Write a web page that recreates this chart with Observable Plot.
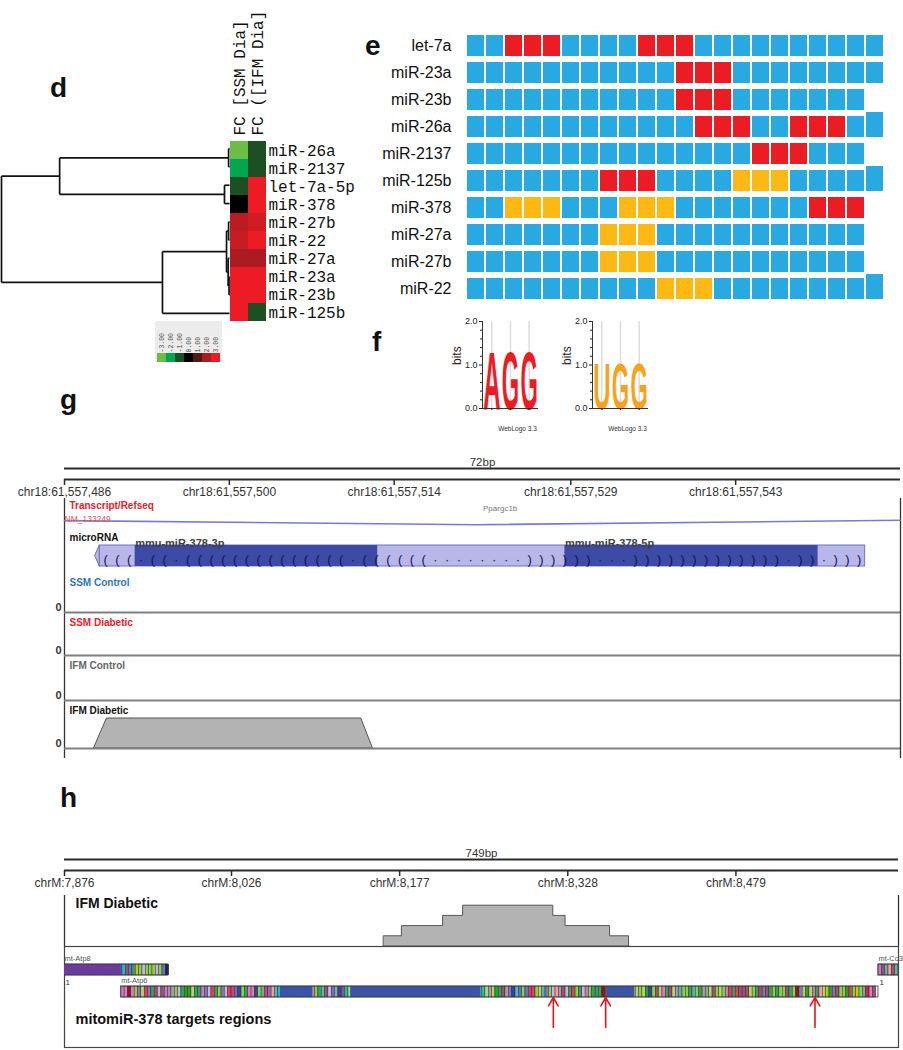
<!DOCTYPE html>
<html>
<head>
<meta charset="utf-8">
<script src="https://cdn.jsdelivr.net/npm/d3@7"></script>
<script src="https://cdn.jsdelivr.net/npm/@observablehq/plot@0.6"></script>
<style>
  body { margin: 0; background: #fff; }
  #root { position: relative; width: 903px; height: 1050px; overflow: hidden; background: #fff;
          font-family: "Liberation Sans", Arial, sans-serif; }
  .panel { position: absolute; font: bold 28px "Liberation Sans", Arial, sans-serif; line-height: 1; color: #111; }
</style>
</head>
<body>
<div id="root"></div>
<script>
// ======================= DATA =======================
// ---- panel d : fold-change heat map ----
const hmRows = ["miR-26a", "miR-2137", "let-7a-5p", "miR-378", "miR-27b", "miR-22", "miR-27a", "miR-23a", "miR-23b", "miR-125b"];
const hmCols = ["FC [SSM Dia]", "FC ([IFM Dia]"];
const fcSSM = [-3.0, -2.0, -1.0, 0.0, 2.3, 2.45, 2.05, 3.0, 3.0, 3.0];
const fcIFM = [-1.0, -1.0, 3.0, 3.0, 2.6, 3.0, 2.05, 3.0, 3.0, -1.0];
// dendrogram merges: [left, right, height]; numbers are leaf rows, "mK" is merge K
const dendroMerges = [
  [0, 1, 0.004],
  [2, 3, 0.022],
  [4, 5, 0.004],
  [7, 8, 0.002],
  [6, "m3", 0.006],
  ["m2", "m4", 0.013],
  ["m5", 9, 0.294],
  ["m0", "m1", 0.745],
  ["m7", "m6", 1.0]
];
const legendValues = [-3, -2, -1, 0, 1, 2, 3];
const legendLabels = ["-3.00", "-2.00", "-1.00", "0.00", "1.00", "2.00", "3.00"];

// ---- panel e : seed-match grid ----
const eRows = ["let-7a", "miR-23a", "miR-23b", "miR-26a", "miR-2137", "miR-125b", "miR-378", "miR-27a", "miR-27b", "miR-22"];
const ePatterns = [
  "BBRRRBBBBRRRBBBBBBBBBB",
  "BBBBBBBBBBBRRRBBBBBBBB",
  "BBBBBBBBBBBRRRBBBBBBB",
  "BBBBBBBBBBBBRRRBBRRRBB",
  "BBBBBBBBBBBBBBBRRRBBB",
  "BBBBBBBRRRBBBBYYYBBBBB",
  "BBYYYBBBYYYBBBBBBBRRR",
  "BBBBBBBYYYBBBBBBBBBBB",
  "BBBBBBBYYYBBBBBBBBBBB",
  "BBBBBBBBBBYYYBBBBBBBBB"
];
const eTallLast = ["miR-26a", "miR-125b", "miR-22"];

// ---- panel f : sequence logos ----
const logoA = ["A", "G", "G"];
const logoAHeights = [1.35, 1.35, 1.35];
const logoU = ["U", "G", "G"];
const logoUHeights = [1.06, 1.06, 1.06];
const logoTicks = [0, 1, 2];
const logoTickLabels = ["0.0", "1.0", "2.0"];
const logoMinorTicks = [0.2, 0.4, 0.6, 0.8, 1.2, 1.4, 1.6, 1.8];
const logoCredit = "WebLogo 3.3";

// ---- panel g : chr18 browser view ----
const gStart = 61557486, gEnd = 61557557;
const gSpanLabel = "72bp";
const gTicks = [61557486, 61557500, 61557514, 61557529, 61557543];
const gTickLabels = ["chr18:61,557,486", "chr18:61,557,500", "chr18:61,557,514", "chr18:61,557,529", "chr18:61,557,543"];
const gTranscriptTrack = "Transcript/Refseq";
const gTranscriptId = "NM_133249";
const gTranscriptName = "Ppargc1b";
const gTranscriptNamePos = 61557523;
const gTranscriptPos = [61557486, 61557521, 61557557];
const gTranscriptLevel = [0.31, 0.18, 0.32];
const gMirTrack = "microRNA";
const gPrecursor = { start: 61557489, end: 61557554, tip: 61557488.6 };
const gMature = [
  { name: "mmu-miR-378-3p", start: 61557492, end: 61557512.6 },
  { name: "mmu-miR-378-5p", start: 61557528.5, end: 61557550 }
];
const gStructure = "(((" + ".((.((((((((((((((.((" + "((((........))))" + "))...)))))))))))))" + ".))" + ".)))";
const gTracks = ["SSM Control", "SSM Diabetic", "IFM Control", "IFM Diabetic"];
const gIFMDiabeticPos = [61557488.5, 61557489.6, 61557511.2, 61557512.2];
const gIFMDiabeticCov = [0, 1, 1, 0];

// ---- panel h : chrM browser view ----
const hStart = 7876, hEnd = 8625;
const hSpanLabel = "749bp";
const hTicks = [7876, 8026, 8177, 8328, 8479];
const hTickLabels = ["chrM:7,876", "chrM:8,026", "chrM:8,177", "chrM:8,328", "chrM:8,479"];
const hCovTrack = "IFM Diabetic";
const hCovPos = [8163, 8179, 8216, 8234, 8315, 8326, 8366, 8383];
const hCovVal = [1, 2, 3, 4, 3, 2, 1, 0];
const hGenes = [
  { name: "mt-Atp8", start: 7766, end: 7969, lane: "1", frame: "1" },
  { name: "mt-Atp6", start: 7927, end: 8607, lane: "2", frame: "" },
  { name: "mt-Co3", start: 8607, end: 9390, lane: "1", frame: "1" }
];
const hProtein = {
  "mt-Atp8": "MPQLDTSTWLTMILSMFLTLFIIFQLKISKHNFYHNPELTPTKMLKQNTPWETKWTKIYLPLLLPLK*",
  "mt-Atp6": "MNENLFASFITPTMMGLPIVVAIIMFPSILFPSSKRLINNRLHSFQHWLVKLIIKQMMLIHTPKGRTWALMIVSLIMFIGSTNLLGLLPHSFTPTTQLSMNLSMAIPLWAGAVITGFRHKLKSSLAHFLPQGTPISLIPMLIIIETISLFIQPMALAVRLTANITAGHLLIHLIGGATLALMSISTTTALITFTILILLTILEFAVAMIQAYVFTLLVSLYLHDNT",
  "mt-Co3": "MTHQTHAYHMVNPSPWPLTG"
};
const hMasked = [
  { gene: "mt-Atp8", lane: "1", start: 7766, end: 7927 },
  { gene: "mt-Atp6", lane: "2", start: 8070, end: 8099 },
  { gene: "mt-Atp6", lane: "2", start: 8133, end: 8250 },
  { gene: "mt-Atp6", lane: "2", start: 8363, end: 8388 }
];
const hSites = [8315, 8362, 8550];
const hSitesLabel = "mitomiR-378 targets regions";

// ======================= LAYOUT HELPERS =======================
const root = document.getElementById("root");
const SANS = "Liberation Sans, Arial, sans-serif";
const MONO = "Liberation Mono, DejaVu Sans Mono, monospace";
function place(node, left, top) {
  node.style.position = "absolute";
  node.style.left = left + "px";
  node.style.top = top + "px";
  root.appendChild(node);
  return node;
}
function panelLabel(text, left, baseline) {
  const d = document.createElement("div");
  d.className = "panel";
  d.textContent = text;
  place(d, left, baseline - 24);
}
const baseStyle = { background: "transparent", fontFamily: SANS, color: "#222", overflow: "visible" };

// ======================= PANEL d =======================
const hmColor = { type: "linear", domain: [-3, 3],
  interpolate: d3.piecewise(d3.interpolateRgb, ["#6abd45", "#00a650", "#1d4f25", "#000000", "#5b1416", "#a61c22", "#ed1c24"]) };

const nodePos = [];
const nodeOf = (ref) => typeof ref === "number" ? { y: ref, h: 0 } : nodePos[+ref.slice(1)];
const dendroSegs = [];
for (const [l, r, h] of dendroMerges) {
  const a = nodeOf(l), b = nodeOf(r);
  dendroSegs.push({ x1: h, y1: a.y, x2: h, y2: b.y });
  dendroSegs.push({ x1: a.h, y1: a.y, x2: h, y2: a.y });
  dendroSegs.push({ x1: b.h, y1: b.y, x2: h, y2: b.y });
  nodePos.push({ y: (a.y + b.y) / 2, h });
}
place(Plot.plot({
  width: 229, height: 330, marginTop: 139, marginBottom: 8, marginLeft: 1, marginRight: 0,
  x: { domain: [1, 0], axis: null },
  y: { domain: [-0.5, hmRows.length - 0.5], reverse: true, axis: null },
  style: baseStyle,
  marks: [Plot.link(dendroSegs, { x1: "x1", y1: "y1", x2: "x2", y2: "y2", stroke: "#111", strokeWidth: 1.7 })]
}), 0, 0);

const hmData = hmRows.flatMap((row, i) => [
  { row, col: hmCols[0], v: fcSSM[i] },
  { row, col: hmCols[1], v: fcIFM[i] }
]);
place(Plot.plot({
  width: 140, height: 330, marginTop: 139, marginBottom: 8, marginLeft: 0, marginRight: 103,
  x: { domain: hmCols, padding: 0, axis: null },
  y: { domain: hmRows, padding: 0 },
  color: hmColor,
  style: { ...baseStyle, fontFamily: MONO },
  marks: [
    Plot.cell(hmData, { x: "col", y: "row", fill: "v" }),
    Plot.axisY({ anchor: "right", tickSize: 0, tickPadding: 2, fontSize: 16, label: null, fill: "#111" }),
    Plot.text(hmCols, { x: d => d, frameAnchor: "top", rotate: -90, textAnchor: "start", lineAnchor: "middle", dy: -4, fontSize: 16, fill: "#111" })
  ]
}), 229, 0);

place(Plot.plot({
  width: 67, height: 41, marginTop: 32, marginBottom: 0, marginLeft: 0, marginRight: 0,
  x: { domain: legendValues, padding: 0, axis: null },
  color: hmColor,
  style: { ...baseStyle, background: "#ececec", fontFamily: MONO },
  marks: [
    Plot.cell(legendValues, { x: d => d, fill: d => d }),
    Plot.text(legendValues, { x: d => d, text: (d, i) => legendLabels[i], frameAnchor: "top", rotate: -90,
      textAnchor: "start", lineAnchor: "middle", dy: -1, fontSize: 6.5, fill: "#444" })
  ]
}), 155, 321);

// ======================= PANEL e =======================
const eCols = Array.from({ length: 22 }, (_, i) => i + 1);
const eCells = eRows.flatMap((row, i) => Array.from(ePatterns[i], (code, j) => ({
  row, col: j + 1, code, tall: eTallLast.includes(row) && j === ePatterns[i].length - 1
})));
place(Plot.plot({
  width: 543, height: 300, marginTop: 12, marginBottom: 18, marginLeft: 98, marginRight: 11,
  x: { domain: eCols, paddingInner: 0.1, paddingOuter: 0, axis: null },
  y: { domain: eRows, paddingInner: 0.22, paddingOuter: 0 },
  color: { type: "ordinal", domain: ["B", "R", "Y"], range: ["#29a9e1", "#ec1c24", "#fcb813"] },
  style: baseStyle,
  marks: [
    Plot.cell(eCells.filter(d => !d.tall), { x: "col", y: "row", fill: "code" }),
    Plot.cell(eCells.filter(d => d.tall), { x: "col", y: "row", fill: "code", insetTop: -4 }),
    Plot.axisY({ tickSize: 0, tickPadding: 7, fontSize: 16, label: null, fill: "#111" })
  ]
}), 360, 20);

// ======================= PANEL f =======================
function logo(letters, heights, colour, left) {
  const data = letters.map((letter, i) => ({ pos: i + 1, letter, h: heights[i] }));
  const svg = Plot.plot({
    width: 110, height: 140, marginTop: 21, marginBottom: 32, marginLeft: 42, marginRight: 12,
    x: { domain: [0.5, letters.length + 0.5], axis: null },
    y: { domain: [0, 2], axis: null },
    style: baseStyle,
    marks: [
      Plot.ruleX(data, { x: "pos", stroke: "#dcdcdc", strokeWidth: 1.5 }),
      Plot.text(data, { x: "pos", y: 0, text: "letter", fill: colour, fontWeight: "bold", lineAnchor: "bottom", fontSize: 20 }),
      Plot.ruleX([0.5], { stroke: "#333" }),
      Plot.ruleY([0], { stroke: "#333" }),
      Plot.axisY({ ticks: logoTicks, tickFormat: d => logoTickLabels[logoTicks.indexOf(d)], tickSize: 3, tickPadding: 2, fontSize: 9, label: null }),
      Plot.axisY({ ticks: logoMinorTicks, tickSize: 2, tickFormat: () => "", label: null }),
      Plot.axisX({ ticks: data.map(d => d.pos), tickSize: 2, tickFormat: () => "", label: null }),
      Plot.text(["bits"], { frameAnchor: "left", rotate: -90, dx: -25, fontSize: 12, fill: "#222" }),
      Plot.text([logoCredit], { frameAnchor: "bottom", dx: 7, dy: 22, fontSize: 6.5, fill: "#333" })
    ]
  });
  place(svg, left, 300);
  // stretch each letter so its cap height matches its information content (in bits)
  const y = svg.scale("y"), x = svg.scale("x");
  const colW = (x.apply(2) - x.apply(1)) * 0.93;
  const nodes = d3.select(svg).selectAll("text")
    .filter(function () { return this.textContent.length === 1 && letters.includes(this.textContent); })
    .nodes();
  nodes.forEach((node, i) => {
    const cap = y.apply(0) - y.apply(data[i].h);
    const adv = node.getComputedTextLength() || 14;
    const sy = cap / (0.716 * 20);
    const sx = colW / adv;
    let t = node.getAttribute("transform") || "";
    if (!/translate/.test(t)) {
      const tx = parseFloat(node.getAttribute("x") || 0), ty = parseFloat(node.getAttribute("y") || 0);
      node.removeAttribute("x"); node.removeAttribute("y");
      t = `translate(${tx},${ty})`;
    }
    node.setAttribute("transform", `${t} scale(${sx},${sy})`);
  });
}
logo(logoA, logoAHeights, "#ed1c24", 440);
logo(logoU, logoUHeights, "#f7a21b", 550);

// ======================= shared ruler =======================
function ruler({ top, domain, ticks, tickLabels, span, marginRight }) {
  place(Plot.plot({
    width: 903, height: 61, marginTop: 28, marginBottom: 22, marginLeft: 64, marginRight,
    x: { domain }, y: { domain: [0, 1], axis: null },
    style: { ...baseStyle, color: "#2a2a2a" },
    marks: [
      Plot.ruleY([0, 1], { stroke: "#2a2a2a", strokeWidth: 2 }),
      Plot.axisX({ anchor: "bottom", ticks, tickFormat: d => tickLabels[ticks.indexOf(d)], tickSize: 6, tickPadding: 2,
        fontSize: 12, label: null, stroke: "#2a2a2a", strokeWidth: 1.5, fill: "#333" }),
      Plot.text([span], { frameAnchor: "top", lineAnchor: "bottom", dy: -3, fontSize: 11.5, fill: "#333" })
    ]
  }), 0, top);
}

// ======================= PANEL g =======================
ruler({ top: 440, domain: [gStart, gEnd], ticks: gTicks, tickLabels: gTickLabels, span: gSpanLabel, marginRight: 3 });
const gX = { domain: [gStart, gEnd], axis: null };
const gBase = { width: 903, marginLeft: 64, marginRight: 3, style: baseStyle };

place(Plot.plot({ ...gBase, height: 260, marginTop: 0, marginBottom: 0, x: gX,
  marks: [Plot.ruleX([gStart, gEnd], { stroke: "#333", strokeWidth: 1.3 })] }), 0, 498);

const gTranscript = gTranscriptPos.map((pos, i) => ({ pos, level: gTranscriptLevel[i] }));
place(Plot.plot({ ...gBase, height: 32, marginTop: 0, marginBottom: 0, x: gX, y: { domain: [0, 1], axis: null },
  marks: [
    Plot.line(gTranscript, { x: "pos", y: "level", stroke: "#7878d8", strokeWidth: 1.6 }),
    Plot.text([gTranscriptId], { x: gStart, y: gTranscriptLevel[0], textAnchor: "start", fontSize: 8.5, fill: "#f0505a", dy: -1 }),
    Plot.text([gTranscriptName], { x: gTranscriptNamePos, y: 0.69, fontSize: 8, fill: "#777" }),
    Plot.text([gTranscriptTrack], { frameAnchor: "top-left", textAnchor: "start", lineAnchor: "middle", dx: 5, dy: 7,
      fontSize: 10, fontWeight: "bold", fill: "#e8202a" })
  ] }), 0, 498);

const gTip = [
  { y: 0, x1: gPrecursor.start, x2: gPrecursor.start },
  { y: 0.5, x1: gPrecursor.tip, x2: gPrecursor.start },
  { y: 1, x1: gPrecursor.start, x2: gPrecursor.start }
];
const gChars = Array.from(gStructure, (ch, i) => ({ ch, pos: gPrecursor.start + i + 0.5 }));
place(Plot.plot({ ...gBase, height: 42, marginTop: 15, marginBottom: 6, x: gX, y: { domain: [0, 1], axis: null },
  marks: [
    Plot.areaX(gTip, { y: "y", x1: "x1", x2: "x2", fill: "#b7b7ea", stroke: "#7070c8", strokeWidth: 1 }),
    Plot.rect([gPrecursor], { x1: "start", x2: "end", y1: 0, y2: 1, fill: "#b7b7ea", stroke: "#7070c8", strokeWidth: 1 }),
    Plot.rect(gMature, { x1: "start", x2: "end", y1: 0, y2: 1, fill: "#3c4ba6" }),
    Plot.text(gChars, { x: "pos", y: 0.5, text: d => d.ch === "." ? "·" : d.ch, fontSize: 13, fill: "#15154a", dy: 4 }),
    Plot.text(gMature, { x: "start", y: 1, text: "name", textAnchor: "start", dy: -2, fontSize: 11, fontWeight: "bold", fill: "#3f3f3f" }),
    Plot.text([gMirTrack], { frameAnchor: "top-left", textAnchor: "start", lineAnchor: "middle", dx: 5, dy: -8,
      fontSize: 10, fontWeight: "bold", fill: "#111" })
  ] }), 0, 530);

const gTrackTop = [572, 612, 655, 700];
const gTrackBottom = [612, 655, 700, 748];
const gTrackColour = ["#2f74c0", "#e8202a", "#666666", "#111111"];
const gCoverage = { "IFM Diabetic": gIFMDiabeticPos.map((pos, i) => ({ pos, v: gIFMDiabeticCov[i] })) };
gTracks.forEach((name, k) => {
  const h = gTrackBottom[k] - gTrackTop[k];
  const cov = gCoverage[name] || [];
  place(Plot.plot({ ...gBase, height: h + 2, marginTop: 0, marginBottom: 2, x: gX, y: { domain: [0, 1.6], axis: null },
    marks: [
      Plot.areaY(cov, { x: "pos", y: "v", fill: "#b3b3b3", stroke: "#555", strokeWidth: 1 }),
      Plot.ruleY([0], { stroke: "#7f7f7f", strokeWidth: 2 }),
      Plot.axisY({ ticks: [0], tickFormat: d => String(d), tickSize: 0, tickPadding: 3, dy: -5, fontSize: 11, fontWeight: "bold", label: null, fill: "#333" }),
      Plot.text([name], { frameAnchor: "top-left", textAnchor: "start", lineAnchor: "middle", dx: 5, dy: 10,
        fontSize: 10, fontWeight: "bold", fill: gTrackColour[k] })
    ] }), 0, gTrackTop[k]);
});

// ======================= PANEL h =======================
ruler({ top: 831, domain: [hStart, hEnd], ticks: hTicks, tickLabels: hTickLabels, span: hSpanLabel, marginRight: 5 });
const hX = { domain: [hStart, hEnd], axis: null };
const hBase = { width: 903, marginLeft: 64, marginRight: 5, style: baseStyle };

const hCov = hCovPos.map((pos, i) => ({ pos, v: hCovVal[i] }));
place(Plot.plot({ ...hBase, height: 51, marginTop: 0, marginBottom: 0, x: hX, y: { domain: [0, 5], axis: null },
  marks: [
    Plot.ruleX([hStart, hEnd], { stroke: "#333", strokeWidth: 1.3 }),
    Plot.areaY(hCov, { x: "pos", y: "v", curve: "step-after", fill: "#b3b3b3", stroke: "#555", strokeWidth: 1 }),
    Plot.text([hCovTrack], { frameAnchor: "top-left", textAnchor: "start", lineAnchor: "middle", dx: 11, dy: 8,
      fontSize: 14, fontWeight: "bold", fill: "#111" })
  ] }), 0, 895);

const hCodons = hGenes.flatMap(g => Array.from(hProtein[g.name], (aa, k) => ({
  lane: g.lane, aa, start: g.start + 3 * k, end: g.start + 3 * k + 3
})));
const aaOrder = "ACDEFGHIKLMNPQRSTVWY*".split("");
const aaPalette = ["#b5d56a", "#f0e442", "#d62728", "#8b1a1a", "#8a70c0", "#a0a0a0", "#5fb3b3", "#3aa05a", "#5a78d0", "#8ccf4a",
                   "#c080c0", "#e377c2", "#c8b4dc", "#ff9896", "#2a4aa8", "#e04060", "#a05070", "#2ca02c", "#17becf", "#c5c32a", "#222222"];
place(Plot.plot({ ...hBase, height: 105, marginTop: 1, marginBottom: 3, x: hX,
  y: { domain: ["1", "2"], range: [18, 52], paddingInner: 0.5, paddingOuter: 0, axis: null },
  color: { type: "ordinal", domain: aaOrder, range: aaPalette },
  marks: [
    Plot.frame({ stroke: "#444", strokeWidth: 1.2 }),
    Plot.barX(hCodons, { x1: "start", x2: "end", y: "lane", fill: "aa", stroke: "#1a1a1a", strokeWidth: 0.4, clip: true }),
    Plot.barX(hMasked.filter(d => d.gene === "mt-Atp8"), { x1: "start", x2: "end", y: "lane", fill: "#6b3c9e", clip: true }),
    Plot.barX(hMasked.filter(d => d.gene !== "mt-Atp8"), { x1: "start", x2: "end", y: "lane", fill: "#3b54a5", clip: true }),
    Plot.barX(hGenes, { x1: "start", x2: "end", y: "lane", fill: "none", stroke: "#333", strokeWidth: 0.8, clip: true }),
    Plot.text(hGenes, { x: d => Math.max(d.start, hStart), y: "lane", text: "name", textAnchor: "start", dy: -11, fontSize: 7.5, fill: "#555" }),
    Plot.text(hGenes.filter(d => d.frame), { x: d => Math.max(d.start, hStart), y: "lane", text: "frame", textAnchor: "start", dx: 1, dy: 12, fontSize: 8, fill: "#333" }),
    Plot.text([hSitesLabel], { frameAnchor: "bottom-left", textAnchor: "start", lineAnchor: "middle", dx: 11, dy: -28,
      fontSize: 14.5, fontWeight: "bold", fill: "#111" })
  ] }), 0, 945);

place(Plot.plot({ ...hBase, height: 35, marginTop: 2, marginBottom: 3, x: hX, y: { domain: [0, 1], axis: null },
  marks: [Plot.arrow(hSites, { x1: d => d, x2: d => d, y1: 0, y2: 1, stroke: "#e8141c", strokeWidth: 1.6, headLength: 9 })]
}), 0, 995);

// ======================= panel letters =======================
panelLabel("d", 50, 98);
panelLabel("e", 365, 56);
panelLabel("f", 372, 352);
panelLabel("g", 60, 410);
panelLabel("h", 60, 808);
</script>
</body>
</html>
